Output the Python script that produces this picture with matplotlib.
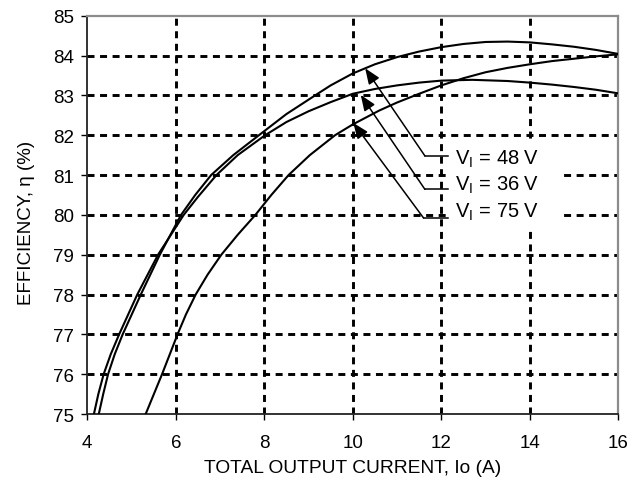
import matplotlib
matplotlib.use("Agg")
import matplotlib.pyplot as plt
from matplotlib.patches import Rectangle

plt.rcParams['font.family'] = ['Liberation Sans', 'DejaVu Sans']
plt.rcParams['mathtext.fontset'] = 'custom'
plt.rcParams['mathtext.rm'] = 'Liberation Sans'

# efficiency curves (current A, efficiency %)
x_48 = [4.26, 4.36, 4.47, 4.62, 4.80, 5.21, 5.64, 6.12, 6.44, 6.80, 7.30, 7.88, 8.50, 9.15, 9.50, 10.0, 10.5,
        11.0, 11.5, 12.0, 12.5, 13.0, 13.5, 14.0, 14.5, 15.0, 15.5, 16.0]
y_48 = [75.0, 75.5, 76.0, 76.5, 77.0, 78.0, 79.0, 80.0, 80.5, 81.0, 81.5, 82.0, 82.53, 83.0, 83.25, 83.55, 83.78,
        83.96, 84.10, 84.21, 84.29, 84.34, 84.35, 84.33, 84.28, 84.22, 84.14, 84.04]

x_36 = [4.15, 4.25, 4.37, 4.53, 4.72, 5.13, 5.60, 6.18, 6.50, 6.92, 7.40, 8.02, 8.50, 9.0, 9.5, 10.0, 10.5,
        11.0, 11.5, 12.0, 12.7, 13.5, 14.0, 14.5, 15.0, 15.5, 16.0]
y_36 = [75.0, 75.5, 76.0, 76.5, 77.0, 78.0, 79.0, 80.0, 80.45, 81.0, 81.5, 82.0, 82.33, 82.6, 82.83, 83.04, 83.16,
        83.25, 83.32, 83.37, 83.39, 83.36, 83.32, 83.27, 83.21, 83.14, 83.05]

x_75 = [5.32, 5.69, 6.04, 6.23, 6.45, 6.72, 7.03, 7.40, 7.80, 8.16, 8.55, 9.03, 9.60, 10.0, 10.6, 11.0, 11.5,
        12.0, 12.5, 13.0, 13.5, 14.0, 14.5, 15.0, 15.5, 16.0]
y_75 = [75.0, 76.0, 77.0, 77.5, 78.0, 78.5, 79.0, 79.5, 80.0, 80.5, 81.0, 81.5, 82.0, 82.27, 82.62, 82.82, 83.04,
        83.25, 83.43, 83.58, 83.69, 83.78, 83.86, 83.92, 83.98, 84.03]

labels = [r'V$_\mathregular{I}$ = 48 V', r'V$_\mathregular{I}$ = 36 V', r'V$_\mathregular{I}$ = 75 V']
# arrow tips on the curves, elbow corners and label positions
tips = [(10.28, 83.68), (10.18, 83.01), (10.01, 82.31)]
elbows = [(11.63, 81.48), (11.63, 80.64), (11.60, 79.92)]
elbow_end = 12.15
text_x = 12.31
text_y = [81.43, 80.76, 80.10]

xticks = [4, 6, 8, 10, 12, 14, 16]
yticks = [75, 76, 77, 78, 79, 80, 81, 82, 83, 84, 85]

fig = plt.figure(figsize=(6.38, 4.81), dpi=100)
ax = fig.add_axes([0.1368, 0.1372, 0.8323, 0.8281])

ax.plot(x_48, y_48, color='black', lw=1.5, zorder=3)
ax.plot(x_36, y_36, color='black', lw=1.5, zorder=3)
ax.plot(x_75, y_75, color='black', lw=1.5, zorder=3)

ax.set_xlim(4, 16)
ax.set_ylim(75, 85)
ax.set_xticks(xticks)
ax.set_yticks(yticks)
ax.grid(True, color='black', linestyle=(0, (2.4, 1.9)), linewidth=2.1, zorder=1)
ax.set_axisbelow(True)
# no grid on the frame itself
for gl in [ax.get_xgridlines()[0], ax.get_xgridlines()[-1], ax.get_ygridlines()[0], ax.get_ygridlines()[-1]]:
    gl.set_visible(False)

# white patch behind the labels hides the grid there
ax.add_patch(Rectangle((12.2, 79.6), 2.55, 2.26, facecolor='white', edgecolor='none', zorder=2))

for (tx, ty), (ex, ey), lab, ly in zip(tips, elbows, labels, text_y):
    ax.annotate('', xy=(tx, ty), xytext=(ex, ey),
                arrowprops=dict(arrowstyle='-|>,head_length=0.95,head_width=0.38', color='black', lw=1.1,
                                shrinkA=0, shrinkB=0), zorder=4)
    ax.plot([ex, elbow_end], [ey, ey], color='black', lw=1.1, zorder=4)
    ax.text(text_x, ly, lab, fontsize=14.5, va='center', ha='left', zorder=5)

for side in ['left', 'bottom']:
    ax.spines[side].set_color('#222222')
    ax.spines[side].set_linewidth(1.3)
for side in ['top', 'right']:
    ax.spines[side].set_color('#8c8c8c')
    ax.spines[side].set_linewidth(1.6)

ax.tick_params(axis='both', direction='out', length=4.5, width=1.0, labelsize=13.5)
ax.tick_params(axis='x', pad=10)
ax.tick_params(axis='y', pad=5)

ax.set_xlabel('TOTAL OUTPUT CURRENT, Io (A)', fontsize=13.8, labelpad=6)
ax.set_ylabel('EFFICIENCY, \u03b7 (%)', fontsize=13.5)
ax.yaxis.set_label_coords(-0.099, 0.482)

fig.savefig('out.png', dpi=100)
